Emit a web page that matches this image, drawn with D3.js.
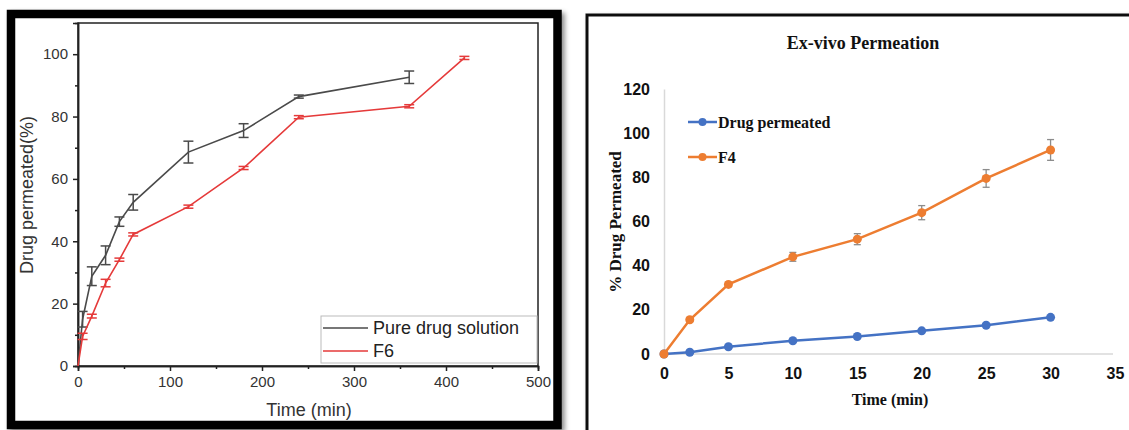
<!DOCTYPE html>
<html>
<head>
<meta charset="utf-8">
<script src="https://cdn.jsdelivr.net/npm/d3@7"></script>
<style>
  body { margin: 0; background: #fff; }
  svg { display: block; }
</style>
</head>
<body>
<svg width="1129" height="430"></svg>
<script>
// left chart: Origin style plot
let leftTime = [0, 5, 15, 30, 45, 60, 120, 180, 240, 360];
let pureDrug = [0, 15, 28.8, 35.5, 46.3, 52.5, 68.6, 75.5, 86.4, 92.6];
let pureDrugErr = [0, 2.5, 3, 3, 1.5, 2.5, 3.5, 2.2, 0.5, 2];
let f6Time = [0, 5, 15, 30, 45, 60, 120, 180, 240, 360, 420];
let f6 = [0, 9.5, 16, 26.6, 34.1, 42.2, 51.1, 63.5, 79.8, 83.3, 98.8];
let f6Err = [0, 1, 0.6, 1.2, 0.5, 0.5, 0.5, 0.5, 0.5, 0.5, 0.5];
let leftXTicks = [0, 100, 200, 300, 400, 500];
let leftYTicks = [0, 20, 40, 60, 80, 100];

// right chart: Excel style plot
let rightTime = [0, 2, 5, 10, 15, 20, 25, 30];
let drugPermeated = [0, 0.8, 3.3, 6, 7.9, 10.5, 13, 16.6];
let f4 = [0, 15.5, 31.5, 44, 52, 64, 79.5, 92.4];
let f4Err = [0, 0.8, 1, 2, 2.5, 3.2, 4, 4.7];
let rightXTicks = [0, 5, 10, 15, 20, 25, 30, 35];
let rightYTicks = [0, 20, 40, 60, 80, 100, 120];

let svg = d3.select("svg");

let defs = svg.append("defs");
defs.append("filter").attr("id", "shadow")
  .attr("x", "-5%").attr("y", "-5%").attr("width", "115%").attr("height", "115%")
  .append("feDropShadow")
    .attr("dx", 3).attr("dy", 3).attr("stdDeviation", 2.5)
    .attr("flood-color", "#000").attr("flood-opacity", 0.45);

// ---------- left panel ----------
svg.append("rect")
  .attr("x", 11).attr("y", 14).attr("width", 546.5).attr("height", 411)
  .attr("fill", "#fff").attr("stroke", "#000").attr("stroke-width", 8.5)
  .attr("filter", "url(#shadow)");

let lx = d3.scaleLinear().domain([0, 500]).range([78, 538]);
let ly = d3.scaleLinear().domain([0, 110]).range([366, 23]);
let L = svg.append("g").attr("font-family", "'Liberation Sans', Arial, sans-serif");

// frame
L.append("rect")
  .attr("x", lx(0)).attr("y", ly(110))
  .attr("width", lx(500) - lx(0)).attr("height", ly(0) - ly(110))
  .attr("fill", "none").attr("stroke", "#222").attr("stroke-width", 1.5);

let lxAxis = L.append("g").attr("transform", `translate(0,${ly(0)})`)
  .call(d3.axisBottom(lx).tickValues(leftXTicks).tickSize(5).tickPadding(5));
let lxMinor = L.append("g").attr("transform", `translate(0,${ly(0)})`)
  .call(d3.axisBottom(lx).tickValues(d3.range(50, 500, 100)).tickSize(3).tickFormat(""));
let lyAxis = L.append("g").attr("transform", `translate(${lx(0)},0)`)
  .call(d3.axisLeft(ly).tickValues(leftYTicks).tickSize(5).tickPadding(5));
let lyMinor = L.append("g").attr("transform", `translate(${lx(0)},0)`)
  .call(d3.axisLeft(ly).tickValues(d3.range(10, 110, 20)).tickSize(3).tickFormat(""));
[lxAxis, lxMinor, lyAxis, lyMinor].forEach(a => {
  a.select(".domain").attr("stroke", "#222").attr("stroke-width", 1.5);
  a.selectAll("line").attr("stroke", "#222").attr("stroke-width", 1.5);
  a.selectAll("text").attr("font-size", 15).attr("fill", "#333").attr("font-family", null);
});

L.append("text")
  .attr("x", 309).attr("y", 416).attr("text-anchor", "middle")
  .attr("font-size", 18).attr("fill", "#333").text("Time (min)");
L.append("text")
  .attr("transform", "translate(33,195) rotate(-90)").attr("text-anchor", "middle")
  .attr("font-size", 18).attr("fill", "#333").text("Drug permeated(%)");

function drawLeftSeries(times, vals, errs, color) {
  let line = d3.line().x((d, i) => lx(times[i])).y(d => ly(d));
  L.append("path").datum(vals)
    .attr("d", line).attr("fill", "none")
    .attr("stroke", color).attr("stroke-width", 1.6);
  let eb = L.append("g").attr("stroke", color).attr("stroke-width", 1.5);
  vals.forEach((v, i) => {
    if (!errs[i]) return;
    let x = lx(times[i]), y0 = ly(v - errs[i]), y1 = ly(v + errs[i]);
    eb.append("line").attr("x1", x).attr("x2", x).attr("y1", y0).attr("y2", y1);
    eb.append("line").attr("x1", x - 5).attr("x2", x + 5).attr("y1", y0).attr("y2", y0);
    eb.append("line").attr("x1", x - 5).attr("x2", x + 5).attr("y1", y1).attr("y2", y1);
  });
}
drawLeftSeries(leftTime, pureDrug, pureDrugErr, "#4a4a4a");
drawLeftSeries(f6Time, f6, f6Err, "#e53a3a");

// legend
let lg = L.append("g");
lg.append("rect").attr("x", 321).attr("y", 316).attr("width", 216).attr("height", 47)
  .attr("fill", "#fff").attr("stroke", "#bbb").attr("stroke-width", 1);
[["Pure drug solution", "#4a4a4a", 328], ["F6", "#e53a3a", 351]].forEach(([name, c, y]) => {
  lg.append("line").attr("x1", 323).attr("x2", 368).attr("y1", y).attr("y2", y)
    .attr("stroke", c).attr("stroke-width", 1.6);
  lg.append("text").attr("x", 373).attr("y", y).attr("dy", "0.35em")
    .attr("font-size", 18).attr("fill", "#222").text(name);
});

// ---------- right panel ----------
svg.append("rect")
  .attr("x", 587).attr("y", 15).attr("width", 600).attr("height", 500)
  .attr("fill", "#fff").attr("stroke", "#111").attr("stroke-width", 3)
  .attr("filter", "url(#shadow)");

let rx = d3.scaleLinear().domain([0, 35]).range([664, 1115]);
let ry = d3.scaleLinear().domain([0, 120]).range([354, 89]);
let R = svg.append("g").attr("font-family", "'Liberation Serif', 'Times New Roman', serif")
  .attr("font-weight", "bold");

R.append("text").attr("x", 863).attr("y", 49).attr("text-anchor", "middle")
  .attr("font-size", 18).attr("fill", "#111").text("Ex-vivo Permeation");

let rxAxis = R.append("g").attr("transform", `translate(0,${ry(0)})`)
  .call(d3.axisBottom(rx).tickValues(rightXTicks).tickSize(0).tickPadding(14));
let ryAxis = R.append("g").attr("transform", `translate(${rx(0)},0)`)
  .call(d3.axisLeft(ry).tickValues(rightYTicks).tickSize(0).tickPadding(14));
[rxAxis, ryAxis].forEach(a => {
  a.select(".domain").attr("stroke", "#d9d9d9").attr("stroke-width", 1.5);
  a.selectAll("text").attr("font-size", 16).attr("fill", "#111").attr("font-family", null);
});
rxAxis.select(".domain").attr("d", `M${rx(0)},0H${rx(35) - 2}`);

R.append("text").attr("x", 890).attr("y", 405).attr("text-anchor", "middle")
  .attr("font-size", 16).attr("fill", "#111").text("Time (min)");
R.append("text")
  .attr("transform", "translate(621,222) rotate(-90)").attr("text-anchor", "middle")
  .attr("font-size", 17).attr("fill", "#111").text("% Drug Permeated");

// F4 error bars
let reb = R.append("g").attr("stroke", "#8c8c8c").attr("stroke-width", 1.3);
f4.forEach((v, i) => {
  let x = rx(rightTime[i]), y0 = ry(v - f4Err[i]), y1 = ry(v + f4Err[i]);
  reb.append("line").attr("x1", x).attr("x2", x).attr("y1", y0).attr("y2", y1);
  reb.append("line").attr("x1", x - 3.5).attr("x2", x + 3.5).attr("y1", y0).attr("y2", y0);
  reb.append("line").attr("x1", x - 3.5).attr("x2", x + 3.5).attr("y1", y1).attr("y2", y1);
});

function drawRightSeries(vals, color) {
  let line = d3.line().x((d, i) => rx(rightTime[i])).y(d => ry(d));
  R.append("path").datum(vals).attr("d", line).attr("fill", "none")
    .attr("stroke", color).attr("stroke-width", 2.5);
  R.append("g").selectAll("circle").data(vals).enter().append("circle")
    .attr("cx", (d, i) => rx(rightTime[i])).attr("cy", d => ry(d))
    .attr("r", 4.5).attr("fill", color);
}
drawRightSeries(drugPermeated, "#4472c4");
drawRightSeries(f4, "#ed7d31");

// legend
[["Drug permeated", "#4472c4", 122], ["F4", "#ed7d31", 157]].forEach(([name, c, y]) => {
  R.append("line").attr("x1", 688).attr("x2", 717).attr("y1", y).attr("y2", y)
    .attr("stroke", c).attr("stroke-width", 2.5);
  R.append("circle").attr("cx", 702.5).attr("cy", y).attr("r", 4).attr("fill", c);
  R.append("text").attr("x", 718).attr("y", y).attr("dy", "0.35em")
    .attr("font-size", 16).attr("fill", "#111").text(name);
});
</script>
</body>
</html>
